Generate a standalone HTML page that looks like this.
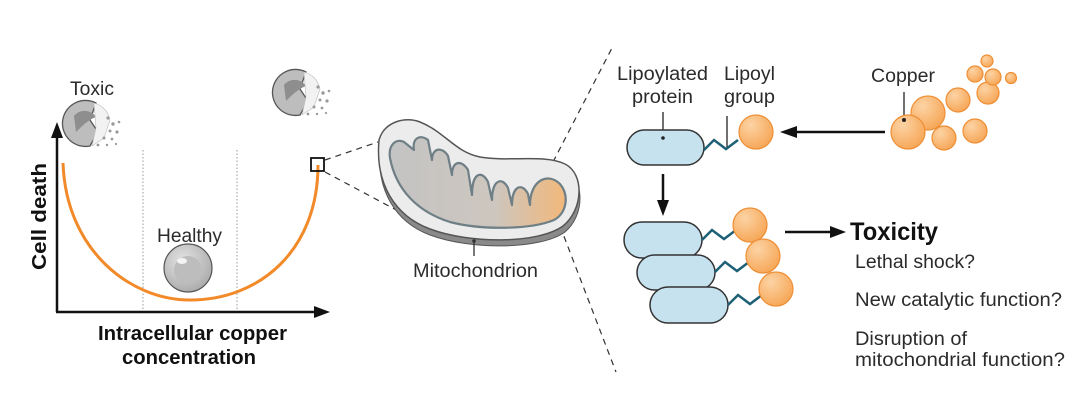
<!DOCTYPE html>
<html><head><meta charset="utf-8"><style>
html,body{margin:0;padding:0;background:#fff}
svg{display:block}
text{font-family:"Liberation Sans",sans-serif;fill:#2b2b2b}
.b{font-weight:bold;fill:#111}
</style></head><body>
<svg width="1080" height="407" viewBox="0 0 1080 407" xmlns="http://www.w3.org/2000/svg">
<defs>
<linearGradient id="mg" x1="0" x2="1" y1="0" y2="0">
<stop offset="0" stop-color="#c4c4c4"/><stop offset="0.6" stop-color="#cdc6be"/><stop offset="1" stop-color="#f2b87a"/></linearGradient>
<radialGradient id="cu" cx="0.35" cy="0.3" r="0.75"><stop offset="0" stop-color="#fcd3a4"/><stop offset="1" stop-color="#f6a656"/></radialGradient>
<radialGradient id="hc" cx="0.4" cy="0.35" r="0.7"><stop offset="0" stop-color="#e4e4e4"/><stop offset="1" stop-color="#a9a9a9"/></radialGradient>
<g id="cell">
<path d="M8,-21 A23,23 0 1 0 2,22 L10,8 L2,-4 Z" fill="#bdbdbd" stroke="#555" stroke-width="1.3"/>
<path d="M-14,-8 C-8,-16 4,-14 8,-7 C0,-4 -6,2 -12,8 Z" fill="#8e8e8e"/>
<path d="M6,-21 C16,-18 20,-12 22,-4 L16,14 L4,22 L8,4 Z" fill="#f2f2f2" stroke="#bbb" stroke-width="0.6"/>
<g fill="#9a9a9a"><circle cx="20" cy="-6" r="1.6"/><circle cx="25" cy="0" r="1.7"/><circle cx="22" cy="7" r="1.5"/><circle cx="29" cy="8" r="1.6"/><circle cx="16" cy="14" r="1.5"/><circle cx="24" cy="15" r="1.4"/><circle cx="31" cy="-2" r="1.3"/><circle cx="10" cy="21" r="1.4"/><circle cx="19" cy="21" r="1.2"/><circle cx="28" cy="20" r="1.1"/></g>
</g>
</defs>

<text x="70" y="95" font-size="19" textLength="44" lengthAdjust="spacingAndGlyphs">Toxic</text>
<use href="#cell" x="88" y="124"/>
<use href="#cell" x="298" y="93"/>
<line x1="143" y1="150" x2="143" y2="310" stroke="#999" stroke-width="1" stroke-dasharray="1.5,2"/>
<line x1="237" y1="150" x2="237" y2="310" stroke="#999" stroke-width="1" stroke-dasharray="1.5,2"/>
<line x1="57" y1="130" x2="57" y2="312" stroke="#111" stroke-width="2.5"/>
<polygon points="57,122 51,138 63,138" fill="#111"/>
<line x1="56" y1="312" x2="318" y2="312" stroke="#111" stroke-width="2.5"/>
<polygon points="330,312 314,306 314,318" fill="#111"/>
<path d="M63,163 C66,250 130,300 190,300 C260,300 318,250 318,165" fill="none" stroke="#f28a2a" stroke-width="3"/>
<rect x="311" y="158" width="13" height="13" fill="none" stroke="#111" stroke-width="1.8"/>
<text x="157" y="242" font-size="19" textLength="65" lengthAdjust="spacingAndGlyphs">Healthy</text>
<circle cx="188" cy="268" r="24" fill="url(#hc)" stroke="#555" stroke-width="1.2"/>
<circle cx="188" cy="270" r="14" fill="#bdbdbd"/>
<ellipse cx="182" cy="261" rx="5" ry="3" fill="#f4f4f4"/>
<text class="b" transform="translate(46,270) rotate(-90)" font-size="20" textLength="107" lengthAdjust="spacingAndGlyphs">Cell death</text>
<text class="b" x="98" y="340" font-size="20" textLength="189" lengthAdjust="spacingAndGlyphs">Intracellular copper</text>
<text class="b" x="122" y="364" font-size="20" textLength="134" lengthAdjust="spacingAndGlyphs">concentration</text>

<g stroke="#333" stroke-width="1.2" stroke-dasharray="6,5" fill="none">
<line x1="325" y1="160" x2="378" y2="142"/>
<line x1="325" y1="172" x2="400" y2="212"/>
<line x1="553" y1="162" x2="612" y2="48"/>
<line x1="560" y1="226" x2="616" y2="372"/>
</g>

<!-- mitochondrion -->
<path d="M380,146 C385,128 405,122 420,128 C445,138 455,158 480,163 C510,168 545,160 565,170 C585,180 585,215 565,232 C540,250 470,250 430,235 C395,222 376,190 380,146 Z" fill="#8a8a8a" stroke="#555" stroke-width="1"/>
<path d="M379,140 C384,122 405,116 420,122 C445,132 455,152 480,157 C510,162 545,154 565,164 C585,174 583,210 563,226 C538,244 470,244 430,229 C395,216 375,184 379,140 Z" fill="#ececec" stroke="#555" stroke-width="1.5"/>
<path d="M390,158 C388,145 396,138 404,142 L414,150 C412,138 420,134 428,140 L432,160 C432,148 442,146 448,156 L452,175 C452,160 462,160 468,170 L472,195 C472,172 482,170 488,182 L492,200 C492,180 502,176 508,188 L512,205 C512,186 522,182 528,194 L530,205 C530,180 548,172 560,184 C570,196 566,214 554,220 C530,230 480,230 450,222 C418,212 396,190 390,158 Z" fill="url(#mg)" stroke="#6f7f86" stroke-width="2.2" stroke-linejoin="round"/>
<line x1="474" y1="240" x2="474" y2="256" stroke="#333" stroke-width="1.3"/>
<circle cx="474" cy="241" r="1.8" fill="#333"/>
<text x="413" y="277" font-size="19" textLength="125" lengthAdjust="spacingAndGlyphs">Mitochondrion</text>

<text x="617" y="80" font-size="19" textLength="91" lengthAdjust="spacingAndGlyphs">Lipoylated</text>
<text x="632" y="103" font-size="19" textLength="61" lengthAdjust="spacingAndGlyphs">protein</text>
<text x="724" y="80" font-size="19" textLength="51" lengthAdjust="spacingAndGlyphs">Lipoyl</text>
<text x="724" y="103" font-size="19" textLength="51" lengthAdjust="spacingAndGlyphs">group</text>
<text x="871" y="82" font-size="19" textLength="64" lengthAdjust="spacingAndGlyphs">Copper</text>
<g stroke="#222" stroke-width="1.3">
<line x1="663" y1="112" x2="663" y2="138"/><line x1="727" y1="116" x2="727" y2="148"/><line x1="904" y1="92" x2="904" y2="120"/>
</g>
<rect x="627" y="130" width="77" height="35" rx="17.5" fill="#c6e2ef" stroke="#333" stroke-width="1.5"/>
<circle cx="663" cy="138" r="1.8" fill="#222"/>
<polyline points="704,150 714,140 726,149 738,140" fill="none" stroke="#1e6177" stroke-width="2.5"/>
<circle cx="756" cy="132" r="17" fill="url(#cu)" stroke="#ee8e35" stroke-width="1.2"/>
<line x1="885" y1="132" x2="795" y2="132" stroke="#111" stroke-width="2.5"/>
<polygon points="780,132 797,126 797,138" fill="#111"/>
<g stroke="#ee8e35" stroke-width="1.2" fill="url(#cu)">
<circle cx="928" cy="113" r="17"/><circle cx="958" cy="100" r="12"/><circle cx="988" cy="93" r="11"/><circle cx="975" cy="74" r="8"/><circle cx="993" cy="77" r="8"/><circle cx="987" cy="61" r="6"/><circle cx="1011" cy="78" r="5.5"/><circle cx="975" cy="131" r="12"/><circle cx="944" cy="138" r="12"/><circle cx="908" cy="132" r="17"/>
</g>
<circle cx="904" cy="120" r="2" fill="#222"/>
<line x1="663" y1="174" x2="663" y2="202" stroke="#111" stroke-width="2.5"/>
<polygon points="663,216 657,200 669,200" fill="#111"/>
<g stroke="#333" stroke-width="1.5" fill="#c6e2ef">
<rect x="624" y="222" width="78" height="36" rx="18"/>
<rect x="637" y="255" width="78" height="35" rx="17.5"/>
<rect x="650" y="287" width="78" height="36" rx="18"/>
</g>
<g fill="none" stroke="#1e6177" stroke-width="2.5">
<polyline points="702,240 712,230 724,239 736,230"/>
<polyline points="715,272 725,262 737,271 749,262"/>
<polyline points="728,305 738,295 750,304 762,295"/>
</g>
<g stroke="#ee8e35" stroke-width="1.2" fill="url(#cu)">
<circle cx="750" cy="225" r="17"/><circle cx="763" cy="256" r="17"/><circle cx="776" cy="289" r="17"/>
</g>
<line x1="785" y1="232" x2="832" y2="232" stroke="#111" stroke-width="2.5"/>
<polygon points="846,232 830,226 830,238" fill="#111"/>
<text class="b" x="850" y="240" font-size="25" textLength="88" lengthAdjust="spacingAndGlyphs">Toxicity</text>
<text x="855" y="268" font-size="19" textLength="120" lengthAdjust="spacingAndGlyphs">Lethal shock?</text>
<text x="855" y="306" font-size="19" textLength="207" lengthAdjust="spacingAndGlyphs">New catalytic function?</text>
<text x="855" y="345" font-size="19" textLength="112" lengthAdjust="spacingAndGlyphs">Disruption of</text>
<text x="855" y="366" font-size="19" textLength="210" lengthAdjust="spacingAndGlyphs">mitochondrial function?</text>
</svg>
</body></html>
